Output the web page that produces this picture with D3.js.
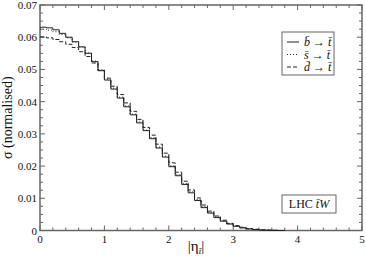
<!DOCTYPE html>
<html>
<head>
<meta charset="utf-8">
<script src="https://cdn.jsdelivr.net/npm/d3@7"></script>
<style>
  body { margin: 0; background: #fff; }
  svg { display: block; }
</style>
</head>
<body>
<div id="chart"></div>
<script>
const binWidth = 0.1
// |eta| histogram, bins of 0.1 starting at 0
const bToT = [0.0631, 0.0629, 0.0623, 0.0612, 0.0600, 0.0586, 0.0570, 0.0550, 0.0524, 0.0496,
  0.0467, 0.0439, 0.0411, 0.0384, 0.0359, 0.0334, 0.0310, 0.0285, 0.0256, 0.0228,
  0.0198, 0.0170, 0.0143, 0.0117, 0.0093, 0.0071, 0.0054, 0.0040, 0.0029, 0.0020,
  0.0013, 0.0008, 0.0005, 0.0003, 0.00015, 0.0001, 0.00005, 0]
const sToT = [0.0625, 0.0622, 0.0617, 0.0608, 0.0598, 0.0585, 0.0570, 0.0551, 0.0526, 0.0499,
  0.0470, 0.0442, 0.0414, 0.0387, 0.0361, 0.0337, 0.0312, 0.0288, 0.0259, 0.0231,
  0.0201, 0.0173, 0.0146, 0.0120, 0.0096, 0.0074, 0.0056, 0.0042, 0.0030, 0.0021,
  0.0014, 0.0009, 0.0005, 0.0003, 0.0002, 0.0001, 0.00005, 0]
const dToT = [0.0601, 0.0598, 0.0593, 0.0586, 0.0578, 0.0568, 0.0555, 0.0540, 0.0520, 0.0497,
  0.0473, 0.0448, 0.0422, 0.0396, 0.0370, 0.0345, 0.0320, 0.0296, 0.0268, 0.0240,
  0.0210, 0.0181, 0.0153, 0.0126, 0.0101, 0.0079, 0.0060, 0.0045, 0.0032, 0.0022,
  0.0015, 0.0010, 0.0006, 0.0004, 0.0002, 0.0001, 0.00005, 0]
const xTicks = [0, 1, 2, 3, 4, 5]
const yTicks = [0, 0.01, 0.02, 0.03, 0.04, 0.05, 0.06, 0.07]
const yTickLabels = ["0", "0.01", "0.02", "0.03", "0.04", "0.05", "0.06", "0.07"]
const series = [
  {name: "b", values: bToT, dash: null},
  {name: "s", values: sToT, dash: "1,2"},
  {name: "d", values: dToT, dash: "4,2"}
]

const width = 366, height = 262
const margin = {left: 40, right: 4, top: 5, bottom: 31.5}
const frameColor = "#666"
const font = "Liberation Serif, DejaVu Serif, serif"

const x = d3.scaleLinear([0, 5], [margin.left, width - margin.right])
const y = d3.scaleLinear([0, 0.07], [height - margin.bottom, margin.top])

const svg = d3.select('#chart')
    .append('svg')
    .attr('width', width)
    .attr('height', height)
    .attr('fill', '#111')
    .attr('font-family', font)

// frame
svg.append("rect")
    .attr("x", x(0))
    .attr("y", y(0.07))
    .attr("width", x(5) - x(0))
    .attr("height", y(0) - y(0.07))
    .attr("fill", "none")
    .attr("stroke", frameColor)
    .attr("stroke-width", 1.5)

const xMinor = d3.range(0, 5.001, 0.2).filter(v => Math.abs(v - Math.round(v)) > 1e-6)
const yMinor = d3.range(0, 0.0701, 0.0025).filter(v => Math.abs(v * 100 - Math.round(v * 100)) > 1e-6)

const ticks = svg.append("g").attr("stroke", frameColor).attr("stroke-width", 1)
const tickSet = (vals, len, horiz) => {
    vals.forEach(v => {
        if (horiz) {
            ticks.append("line").attr("x1", x(v)).attr("x2", x(v)).attr("y1", y(0)).attr("y2", y(0) - len)
            ticks.append("line").attr("x1", x(v)).attr("x2", x(v)).attr("y1", y(0.07)).attr("y2", y(0.07) + len)
        } else {
            ticks.append("line").attr("y1", y(v)).attr("y2", y(v)).attr("x1", x(0)).attr("x2", x(0) + len)
            ticks.append("line").attr("y1", y(v)).attr("y2", y(v)).attr("x1", x(5)).attr("x2", x(5) - len)
        }
    })
}
tickSet(xTicks, 5, true)
tickSet(xMinor, 3, true)
tickSet(yTicks, 5, false)
tickSet(yMinor, 3, false)

svg.append("g")
    .attr("font-size", 11)
    .attr("text-anchor", "middle")
    .selectAll("text")
    .data(xTicks)
    .join("text")
    .attr("x", d => x(d))
    .attr("y", y(0) + 12)
    .text(d => d)

svg.append("g")
    .attr("font-size", 11)
    .attr("text-anchor", "end")
    .selectAll("text")
    .data(yTicks)
    .join("text")
    .attr("x", x(0) - 3)
    .attr("y", d => y(d) + 4)
    .text((d, i) => yTickLabels[i])

// histograms
const line = d3.line()
    .x((d, i) => x(i * binWidth))
    .y(d => y(d))
    .curve(d3.curveStepAfter)

svg.append("g")
    .attr("fill", "none")
    .attr("stroke", "#222")
    .attr("stroke-width", 1)
    .selectAll("path")
    .data(series)
    .join("path")
    .attr("stroke-dasharray", d => d.dash)
    .attr("d", d => line([...d.values, d.values[d.values.length - 1]]))

// axis titles
svg.append("text")
    .attr("transform", `translate(12,${(y(0) + y(0.07)) / 2}) rotate(-90)`)
    .attr("text-anchor", "middle")
    .attr("font-size", 14)
    .text("σ (normalised)")

const xl = svg.append("text")
    .attr("x", 196)
    .attr("y", 251)
    .attr("text-anchor", "middle")
    .attr("font-size", 15)
xl.append("tspan").text("|η")
xl.append("tspan").attr("font-size", 9).attr("dy", 3).attr("font-style", "italic").text("t̄")
xl.append("tspan").attr("dy", -3).text("|")

// legend
svg.append("rect")
    .attr("x", 282).attr("y", 32).attr("width", 52).attr("height", 43)
    .attr("fill", "#fff").attr("stroke", frameColor).attr("stroke-width", 1)
const legendRows = svg.append("g")
    .selectAll("g")
    .data(series)
    .join("g")
    .attr("transform", (d, i) => `translate(287,${42 + i * 12.5})`)
legendRows.append("line")
    .attr("x1", 0).attr("x2", 12)
    .attr("stroke", "#222")
    .attr("stroke-dasharray", d => d.dash)
legendRows.append("text")
    .attr("x", 17)
    .attr("y", 4)
    .attr("font-size", 12)
    .attr("font-style", "italic")
    .text(d => `${d.name}\u0304 → t\u0304`)

// LHC label
svg.append("rect")
    .attr("x", 282).attr("y", 195).attr("width", 54).attr("height", 18)
    .attr("fill", "#fff").attr("stroke", frameColor).attr("stroke-width", 1)
const lhc = svg.append("text")
    .attr("x", 309).attr("y", 208)
    .attr("text-anchor", "middle")
    .attr("font-size", 12)
lhc.append("tspan").text("LHC ")
lhc.append("tspan").attr("font-style", "italic").text("t\u0304W")
</script>
</body>
</html>
